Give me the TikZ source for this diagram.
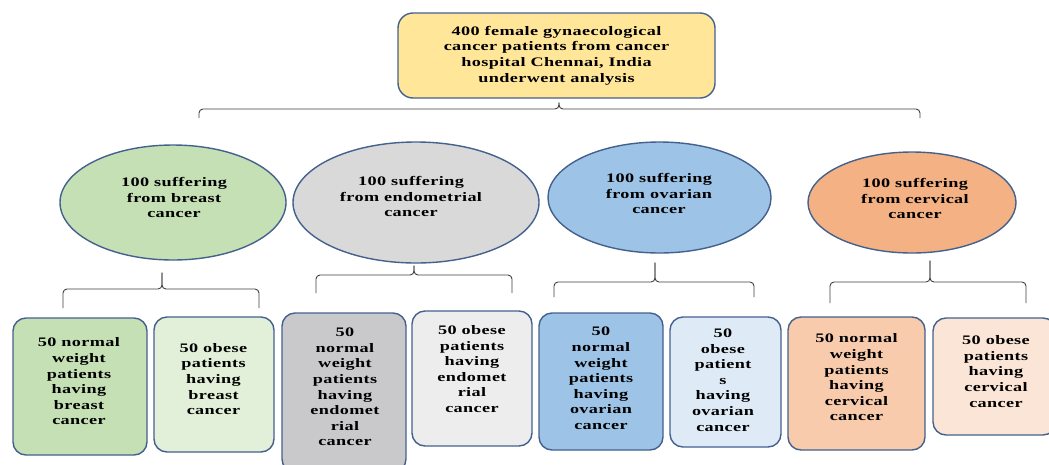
\documentclass[tikz,border=0pt]{standalone}
\usepackage{fontspec}
\setmainfont{Liberation Serif}[FakeStretch=1.4,LetterSpace=3]
\usetikzlibrary{shapes.geometric}
\definecolor{bord}{HTML}{44618E}
\definecolor{ctop}{HTML}{FFE699}
\definecolor{egreen}{HTML}{C5E0B4}
\definecolor{egray}{HTML}{D9D9D9}
\definecolor{eblue}{HTML}{9DC3E6}
\definecolor{eorange}{HTML}{F4B183}
\definecolor{bgreenD}{HTML}{C5E0B4}
\definecolor{bgreenL}{HTML}{E2F0D9}
\definecolor{bgrayD}{HTML}{C9C9CB}
\definecolor{bgrayL}{HTML}{EDEDED}
\definecolor{bblueD}{HTML}{9DC3E6}
\definecolor{bblueL}{HTML}{DEEBF7}
\definecolor{borD}{HTML}{F8CBAD}
\definecolor{borL}{HTML}{FBE5D6}
\definecolor{brcol}{HTML}{404040}
\tikzset{
  txt/.style={align=center,inner sep=0pt,text=black,font=\fontsize{13}{15.6}\selectfont\bfseries},
  topbox/.style={draw=bord,line width=1.4pt,fill=ctop,rounded corners=15pt,minimum width=317pt,minimum height=85pt,txt},
  ell/.style={ellipse,draw=bord,line width=1.4pt,inner sep=0pt},
  rbox/.style={draw=bord,line width=1.4pt,rounded corners=13pt,inner sep=0pt},
  brc/.style={draw=brcol,line width=0.9pt,rounded corners=4pt}
}
\newcommand\mybrc[4]{%
  \draw[brc] (#1) -- ++(0,-#4) -| (#3);
  \draw[brc] (#2) -- ++(0,-#4) -| (#3);}
\begin{document}
\begin{tikzpicture}[x=1pt,y=-1pt]
\useasboundingbox (0,0) rectangle (1049,464);
\clip (0,0) rectangle (1049,464);
\fill[white] (0,0) rectangle (1049,464);
% top
\node[topbox] (top) at (556.5,55.5) {400 female gynaecological\\cancer patients from cancer\\hospital Chennai, India\\underwent analysis};
% ellipses
\node[ell,fill=egreen,minimum width=226pt,minimum height=115pt] (e1) at (173,202.5) {};
\node[ell,fill=egray,minimum width=246pt,minimum height=121pt] (e2) at (416,202.5) {};
\node[ell,fill=eblue,minimum width=223pt,minimum height=111pt] (e3) at (659.5,197.5) {};
\node[ell,fill=eorange,minimum width=208pt,minimum height=101pt] (e4) at (912,202.5) {};
\node[txt] (e1t) at (174,197.5) {100 suffering\\from breast\\cancer};
\node[txt] (e2t) at (411,196.5) {100 suffering\\from endometrial\\cancer};
\node[txt] (e3t) at (659,193.5) {100 suffering\\from ovarian\\cancer};
\node[txt] (e4t) at (915,198.5) {100 suffering\\from cervical\\cancer};
% bottom boxes
\node[rbox,fill=bgreenD,minimum width=134pt,minimum height=137pt] (b1) at (80,386.5) {};
\node[rbox,fill=bgreenL,minimum width=120pt,minimum height=135pt] (b2) at (214,384.5) {};
\node[rbox,fill=bgrayD,minimum width=124pt,minimum height=159pt] (b3) at (344,392.5) {};
\node[rbox,fill=bgrayL,minimum width=120pt,minimum height=135pt] (b4) at (472,378.5) {};
\node[rbox,fill=bblueD,minimum width=124pt,minimum height=137pt] (b5) at (601,381.5) {};
\node[rbox,fill=bblueL,minimum width=111pt,minimum height=130pt] (b6) at (725.5,382) {};
\node[rbox,fill=borD,minimum width=137pt,minimum height=133pt] (b7) at (856.5,383.5) {};
\node[rbox,fill=borL,minimum width=123pt,minimum height=117pt] (b8) at (994.5,376.5) {};
\node[txt] (b1t) at (79,381.5) {50 normal\\weight\\patients\\having\\breast\\cancer};
\node[txt] (b2t) at (213.5,379) {50 obese\\patients\\having\\breast\\cancer};
\node[txt] (b3t) at (345,387) {50\\normal\\weight\\patients\\having\\endomet\\rial\\cancer};
\node[txt] (b4t) at (472,369) {50 obese\\patients\\having\\endomet\\rial\\cancer};
\node[txt] (b5t) at (601,378.5) {50\\normal\\weight\\patients\\having\\ovarian\\cancer};
\node[txt] (b6t) at (723,380) {50\\obese\\patient\\s\\having\\ovarian\\cancer};
\node[txt] (b7t) at (856.5,377.5) {50 normal\\weight\\patients\\having\\cervical\\cancer};
\node[txt] (b8t) at (996,371.5) {50 obese\\patients\\having\\cervical\\cancer};
% brace ends
\coordinate (t0l) at (199,118);  \coordinate (t0r) at (920,118);
\coordinate (t1l) at (63,308);   \coordinate (t1r) at (259,308);
\coordinate (t2l) at (316,293);  \coordinate (t2r) at (512,293);
\coordinate (t3l) at (554,297);  \coordinate (t3r) at (754,297);
\coordinate (t4l) at (830,303);  \coordinate (t4r) at (1026,303);
\coordinate (p0) at ([xshift=2.5pt,yshift=-4pt]top.south);
\coordinate (p1) at ([xshift=-11pt,yshift=-12pt]e1.south);
\coordinate (p2) at ([xshift=-2pt,yshift=-2pt]e2.south);
\coordinate (p3) at ([xshift=-4.5pt,yshift=-9pt]e3.south);
\coordinate (p4) at ([xshift=18pt,yshift=-7pt]e4.south);
\mybrc{t0l}{t0r}{p0}{9}
\mybrc{t1l}{t1r}{p1}{19}
\mybrc{t2l}{t2r}{p2}{18}
\mybrc{t3l}{t3r}{p3}{15}
\mybrc{t4l}{t4r}{p4}{21}
\end{tikzpicture}
\end{document}
